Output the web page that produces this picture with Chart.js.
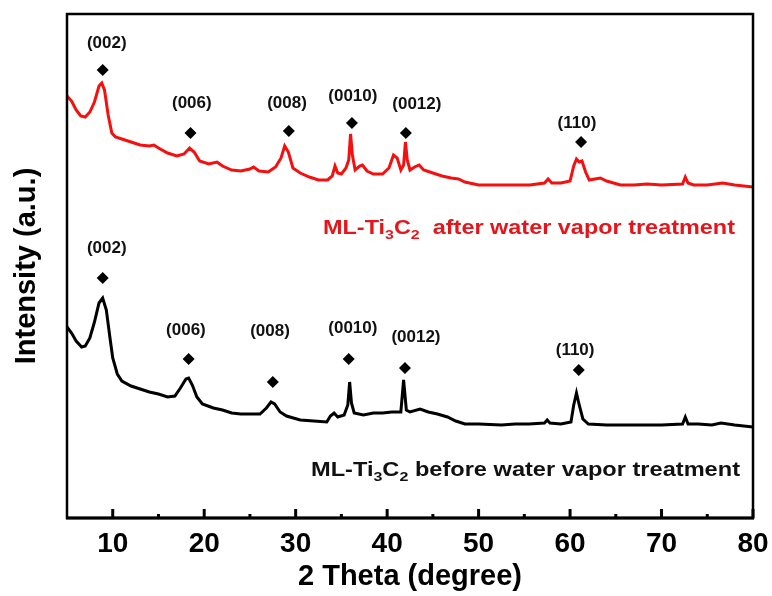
<!DOCTYPE html>
<html>
<head>
<meta charset="utf-8">
<script src="https://cdn.jsdelivr.net/npm/chart.js@4/dist/chart.umd.min.js"></script>
<style>
  html, body { margin: 0; padding: 0; background: #fff; }
  #wrap { width: 772px; height: 596px; }
</style>
</head>
<body>
<div id="wrap"><canvas id="xrd"></canvas></div>
<script>
// 2 Theta tick values
const xTicks = [10, 20, 30, 40, 50, 60, 70, 80];
const xMinor = [15, 25, 35, 45, 55, 65, 75];

// red curve: after water vapor treatment
const redTheta = [5.0, 5.5, 6.0, 6.5, 7.0, 7.5, 8.0, 8.5, 8.8, 9.1, 9.5, 9.9, 10.3, 11, 12, 13, 14, 14.5, 15, 16, 17, 17.8, 18.4, 18.9, 19.5, 20.5, 21.4, 22, 23, 24, 25, 25.4, 26, 27, 27.8, 28.4, 28.8, 29.2, 29.7, 30.5, 31.5, 32.5, 33.5, 34.0, 34.3, 34.6, 35.0, 35.5, 35.8, 36.0, 36.2, 36.5, 37.0, 37.3, 37.8, 38.5, 39.5, 40.2, 40.7, 41.1, 41.5, 41.8, 42.0, 42.2, 42.5, 43.0, 43.5, 44.0, 45, 46, 47, 47.8, 48.5, 50, 52, 54, 55.6, 57.2, 57.6, 58, 59, 60.0, 60.4, 60.7, 61.0, 61.3, 61.7, 62.1, 63.3, 64, 65.5, 67, 68.4, 70, 72.3, 72.6, 72.9, 73.5, 75, 76.7, 78, 80];
const redIntensity = [422, 417, 408, 402, 401, 406, 416, 432, 435, 428, 403, 385, 381, 379, 376, 373, 372, 373, 370, 365, 362, 364, 370, 366, 357, 354, 356, 352, 348, 347, 349, 351, 347, 346, 351, 360, 372, 366, 350, 345, 341, 338, 338, 342, 352, 345, 344, 350, 358, 384, 363, 348, 352, 353, 347, 344, 344, 350, 363, 360, 348, 353, 376, 358, 348, 351, 353, 348, 345, 342, 340, 339, 336, 333, 333, 333, 333, 335, 339, 335, 335, 337, 352, 359, 356, 357, 346, 338, 340, 337, 333, 333, 334, 333, 334, 341, 335, 333, 333, 335, 333, 331];

// black curve: before water vapor treatment
const blackTheta = [5.0, 5.5, 6.0, 6.6, 7.0, 7.5, 8.0, 8.5, 8.9, 9.3, 9.7, 10.0, 10.5, 11, 12, 13, 14, 15, 16, 16.8, 17.4, 18.0, 18.3, 18.7, 19.2, 19.8, 21, 22, 23, 24, 25, 26.1, 26.8, 27.3, 27.7, 28.3, 29, 30.5, 32, 33.4, 33.8, 34.2, 34.6, 35.3, 35.7, 35.9, 36.1, 36.4, 37.4, 38.5, 39.5, 40.5, 41.5, 41.8, 42.1, 42.5, 43.6, 44.5, 45.5, 46.6, 47.5, 48.5, 50, 52.5, 54, 55.5, 57.2, 57.5, 57.8, 59, 60.1, 60.4, 60.7, 61.0, 61.4, 62, 64, 66, 68.5, 70, 72.3, 72.6, 72.9, 74, 75.5, 76.5, 78, 80];
const blackIntensity = [191, 185, 177, 171, 172, 180, 196, 215, 220, 208, 180, 160, 144, 137, 132, 129, 126, 124, 121, 122, 130, 139, 140, 133, 121, 114, 110, 108, 105, 104, 104, 104, 110, 116, 114, 106, 102, 98, 97, 96, 102, 105, 101, 103, 113, 136, 115, 105, 103, 105, 105, 106, 106, 138, 108, 106, 109, 106, 104, 101, 97, 94, 94, 93, 94, 94, 95, 98, 95, 94, 96, 113, 125, 113, 99, 94, 93, 93, 93, 93, 94, 101, 94, 94, 93, 95, 93, 91];

// peak markers and their (hkl) labels
const peakNames = ["(002)", "(006)", "(008)", "(0010)", "(0012)", "(110)"];
const redMarkTheta = [8.9, 18.5, 29.25, 36.15, 42.05, 61.2];
const redMarkY = [448, 385, 387, 395, 385, 376];
const redLabelTheta = [9.35, 18.65, 29.05, 36.25, 43.25, 60.75];
const redLabelY = [475, 415, 415, 422, 414, 395];
const blackMarkTheta = [8.9, 18.3, 27.5, 35.8, 41.95, 60.95];
const blackMarkY = [240, 159, 136, 159, 150, 148];
const blackLabelTheta = [9.35, 18.0, 27.2, 36.25, 43.15, 60.55];
const blackLabelY = [270, 188, 187, 190, 181, 168];

const FONT = '"Liberation Sans", Arial, sans-serif';
const RED = "#f50f0f";
const RED_TEXT = "#e4161c";

function pts(xs, ys) { return xs.map((x, i) => ({ x: x, y: ys[i] })); }

// label with subscripts: ML-Ti3C2 ..., stretched to a given width
function drawFormula(ctx, x, y, tail, size, color, width) {
  const parts = [["ML-Ti", 0], ["3", 1], ["C", 0], ["2", 1], [tail, 0]];
  let total = 0;
  parts.forEach(p => {
    ctx.font = "bold " + (p[1] ? size * 0.68 : size) + "px " + FONT;
    total += ctx.measureText(p[0]).width;
  });
  ctx.save();
  ctx.translate(x, y);
  ctx.scale(width / total, 1);
  ctx.fillStyle = color;
  ctx.textAlign = "left";
  ctx.textBaseline = "alphabetic";
  let cx = 0;
  parts.forEach(p => {
    ctx.font = "bold " + (p[1] ? size * 0.68 : size) + "px " + FONT;
    ctx.fillText(p[0], cx, p[1] ? size * 0.25 : 0);
    cx += ctx.measureText(p[0]).width;
  });
  ctx.restore();
}

const decor = {
  id: "decor",
  afterDatasetsDraw(chart) {
    const ctx = chart.ctx;
    const a = chart.chartArea;
    const xs = chart.scales.x, ys = chart.scales.y;
    ctx.save();

    // hkl labels
    ctx.fillStyle = "#111";
    ctx.font = "bold 17px " + FONT;
    ctx.textAlign = "center";
    ctx.textBaseline = "middle";
    peakNames.forEach((n, i) => {
      ctx.fillText(n, xs.getPixelForValue(redLabelTheta[i]), ys.getPixelForValue(redLabelY[i]));
      ctx.fillText(n, xs.getPixelForValue(blackLabelTheta[i]), ys.getPixelForValue(blackLabelY[i]));
    });

    drawFormula(ctx, 323, 234, "  after water vapor treatment", 20, RED_TEXT, 412);
    drawFormula(ctx, 311, 476, " before water vapor treatment", 20, "#111", 429);

    // frame and inward ticks
    ctx.strokeStyle = "#000";
    ctx.lineWidth = 2.5;
    ctx.strokeRect(a.left, a.top, a.right - a.left, a.bottom - a.top);
    ctx.lineWidth = 3;
    ctx.beginPath();
    ctx.moveTo(a.left - 1, a.bottom);
    ctx.lineTo(a.right + 1, a.bottom);
    xTicks.forEach(v => {
      const px = xs.getPixelForValue(v);
      ctx.moveTo(px, a.bottom);
      ctx.lineTo(px, a.bottom - 9);
    });
    xMinor.forEach(v => {
      const px = xs.getPixelForValue(v);
      ctx.moveTo(px, a.bottom);
      ctx.lineTo(px, a.bottom - 4);
    });
    ctx.stroke();
    ctx.restore();
  }
};

new Chart(document.getElementById("xrd"), {
  type: "scatter",
  data: {
    datasets: [
      {
        data: pts(redTheta, redIntensity),
        showLine: true, borderColor: RED, borderWidth: 3,
        pointRadius: 0, tension: 0
      },
      {
        data: pts(blackTheta, blackIntensity),
        showLine: true, borderColor: "#000", borderWidth: 3,
        pointRadius: 0, tension: 0
      },
      {
        data: pts(redMarkTheta, redMarkY).concat(pts(blackMarkTheta, blackMarkY)),
        showLine: false, pointStyle: "rectRot", pointRadius: 6,
        backgroundColor: "#000", borderColor: "#000", borderWidth: 0
      }
    ]
  },
  options: {
    responsive: true,
    maintainAspectRatio: false,
    animation: false,
    layout: { padding: { top: 14, right: 19, left: 0, bottom: 0 } },
    plugins: { legend: { display: false }, tooltip: { enabled: false } },
    scales: {
      x: {
        type: "linear", min: 5, max: 80,
        afterBuildTicks: s => { s.ticks = xTicks.map(v => ({ value: v })); },
        afterFit: s => { s.height = 78; s.paddingLeft = 0; s.paddingRight = 0; },
        grid: { display: false, drawTicks: false },
        border: { display: false },
        ticks: { color: "#000", padding: 9, font: { family: FONT, size: 28, weight: "bold" } },
        title: {
          display: true, text: "2 Theta (degree)", color: "#000",
          padding: { top: 0, bottom: 2 },
          font: { family: FONT, size: 29, weight: "bold" }
        }
      },
      y: {
        type: "linear", min: 0, max: 504,
        afterFit: s => { s.width = 67; },
        grid: { display: false, drawTicks: false },
        border: { display: false },
        ticks: { display: false },
        title: {
          display: true, text: "Intensity (a.u.)", color: "#000",
          padding: { top: 10, bottom: 0 },
          font: { family: FONT, size: 29, weight: "bold" }
        }
      }
    }
  },
  plugins: [decor]
});
</script>
</body>
</html>
